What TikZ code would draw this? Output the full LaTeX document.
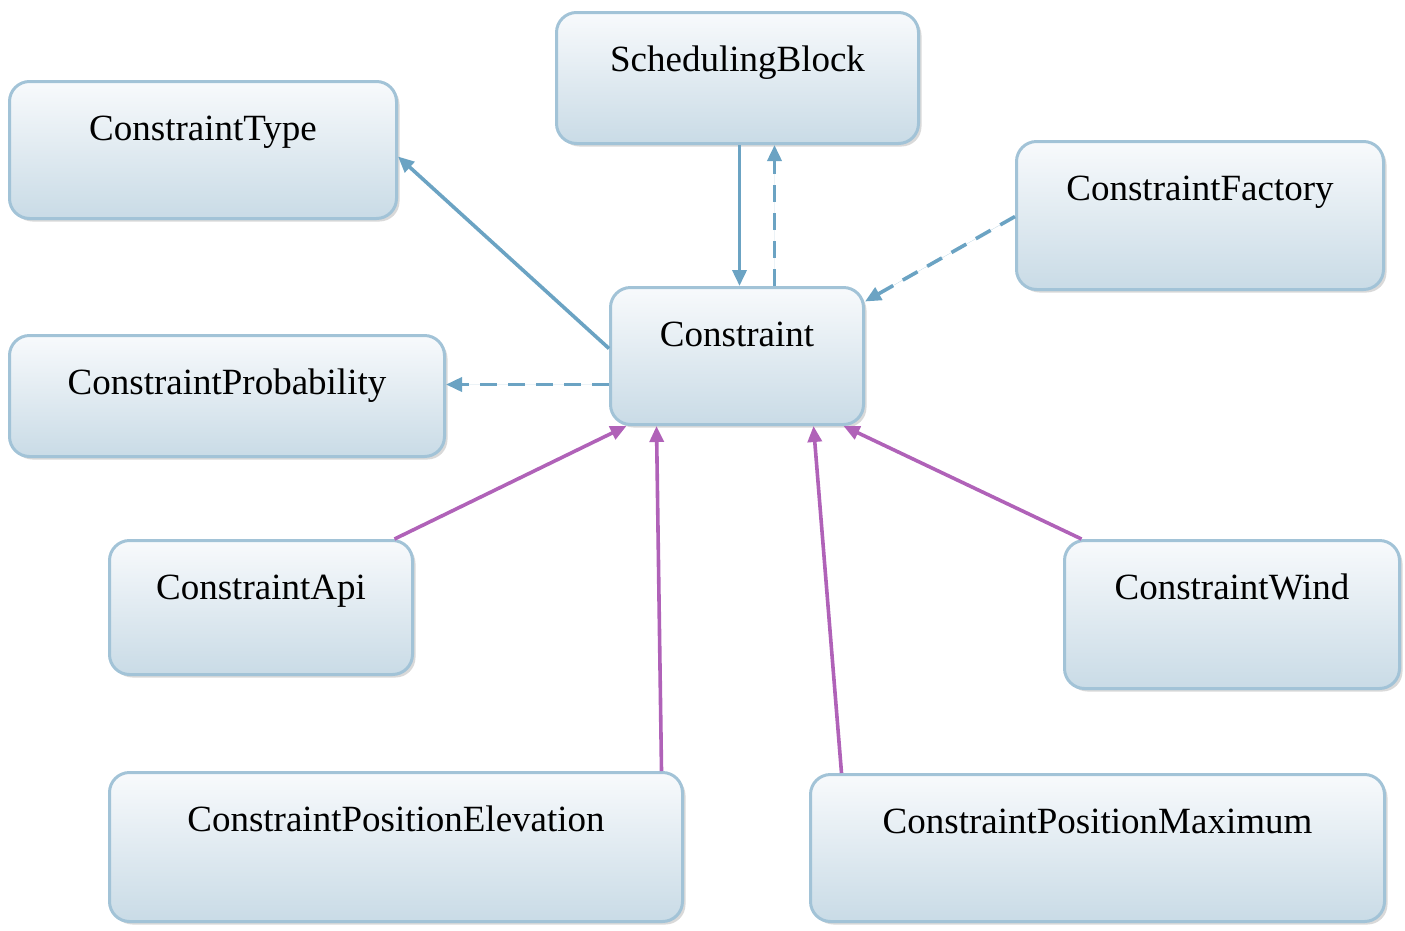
\documentclass[tikz,border=0pt]{standalone}
\usepackage{fontspec}
\setmainfont{Liberation Serif}
\usetikzlibrary{arrows.meta,shadows}
\definecolor{boxborder}{HTML}{A2C3D7}
\definecolor{boxtop}{HTML}{F8FAFC}
\definecolor{boxbottom}{HTML}{C9DBE6}
\definecolor{assocblue}{HTML}{6BA3C3}
\definecolor{inherit}{HTML}{B062B8}
\begin{document}
\begin{tikzpicture}[x=1pt,y=-1pt,
  classbox/.style={draw=boxborder, line width=3pt, rounded corners=20pt,
    top color=boxtop, bottom color=boxbottom, anchor=north west, inner sep=0pt,
    drop shadow={shadow xshift=3pt, shadow yshift=-3pt, opacity=0.25, fill=black!60}},
  classname/.style={anchor=base, inner sep=0pt, font=\fontsize{37}{44}\selectfont},
  tip/.style={-{Triangle[length=16pt,width=14pt]}},
  blueline/.style={draw=assocblue, fill=assocblue, line width=3.6pt, tip},
  dashline/.style={blueline, dash pattern=on 17pt off 11pt},
  purpleline/.style={draw=inherit, fill=inherit, line width=3.6pt, tip}]
\useasboundingbox (0,0) rectangle (1405,930);

% class boxes
\node[classbox, minimum width=362pt, minimum height=131pt] (sb) at (555,11) {};
\node[classbox, minimum width=387pt, minimum height=137pt] (ct) at (8,80) {};
\node[classbox, minimum width=367pt, minimum height=148pt] (cf) at (1015,140) {};
\node[classbox, minimum width=253pt, minimum height=137pt] (c) at (609,286) {};
\node[classbox, minimum width=435pt, minimum height=121pt] (cp) at (8,334) {};
\node[classbox, minimum width=303pt, minimum height=134pt] (ca) at (108,539) {};
\node[classbox, minimum width=335pt, minimum height=148pt] (cw) at (1063,539) {};
\node[classbox, minimum width=573pt, minimum height=149pt] (ce) at (108,771) {};
\node[classbox, minimum width=574pt, minimum height=147pt] (cm) at (809,773) {};

% class names
\node[classname] (sbT) at ([yshift=-60pt]sb.north) {SchedulingBlock};
\node[classname] (ctT) at ([yshift=-60pt]ct.north) {ConstraintType};
\node[classname] (cfT) at ([yshift=-60pt]cf.north) {ConstraintFactory};
\node[classname] (cT)  at ([yshift=-60pt]c.north)  {Constraint};
\node[classname] (cpT) at ([yshift=-60pt]cp.north) {ConstraintProbability};
\node[classname] (caT) at ([yshift=-60pt]ca.north) {ConstraintApi};
\node[classname] (cwT) at ([yshift=-60pt]cw.north) {ConstraintWind};
\node[classname] (ceT) at ([yshift=-60pt]ce.north) {ConstraintPositionElevation};
\node[classname] (cmT) at ([yshift=-60pt]cm.north) {ConstraintPositionMaximum};

% associations and dependencies
\draw[blueline] ([xshift=2pt]sb.south) -- ([xshift=2.5pt]c.north);
\draw[dashline] ([xshift=37.5pt]c.north) -- ([xshift=37pt]sb.south);
\draw[blueline] ([yshift=7.5pt]c.west) -- ([yshift=-6.5pt]ct.east);
\draw[dashline] ([yshift=-1pt]cf.west) -- ([yshift=54.5pt]c.east);
\draw[dashline] ([yshift=-28.5pt]c.west) -- ([yshift=11.5pt]cp.east);

% generalisations
\draw[purpleline] ([xshift=133.5pt]ca.north) -- ([xshift=-110.5pt]c.south);
\draw[purpleline] ([xshift=265.5pt]ce.north) -- ([xshift=-80.5pt]c.south);
\draw[purpleline] ([xshift=-256pt]cm.north) -- ([xshift=76.5pt]c.south);
\draw[purpleline] ([xshift=-150.5pt]cw.north) -- ([xshift=106.5pt]c.south);
\end{tikzpicture}
\end{document}
